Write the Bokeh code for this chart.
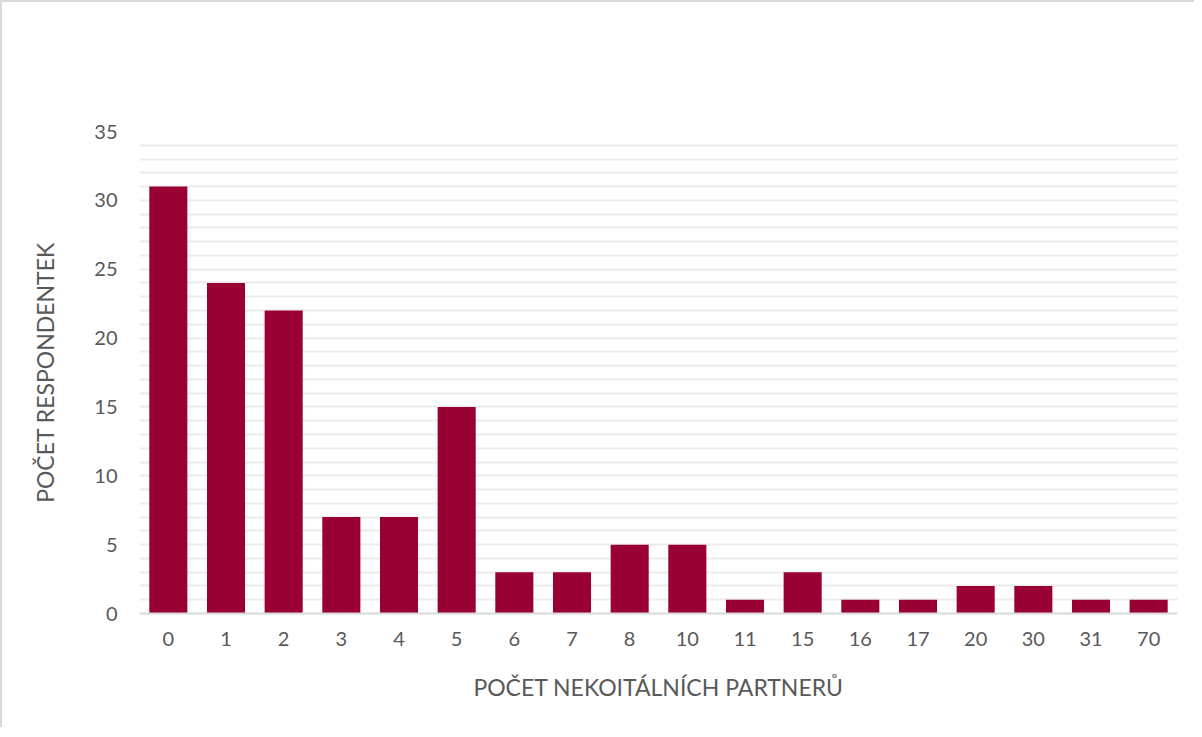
from bokeh.plotting import figure
from bokeh.models import Range1d, SingleIntervalTicker, FixedTicker
from bokeh.embed import file_html
from bokeh.resources import INLINE

categories = ["0", "1", "2", "3", "4", "5", "6", "7", "8", "10", "11", "15", "16", "17", "20", "30", "31", "70"]
counts = [31, 24, 22, 7, 7, 15, 3, 3, 5, 5, 1, 3, 1, 1, 2, 2, 1, 1]
y_ticks = [0, 5, 10, 15, 20, 25, 30, 35]
x_title = "POČET NEKOITÁLNÍCH PARTNERŮ"
y_title = "POČET RESPONDENTEK"

FONT = "Lato"
GRAY = "#595959"

p = figure(
    x_range=categories,
    y_range=Range1d(0, 35),
    frame_width=1038,
    frame_height=482,
    output_backend="svg",
    toolbar_location=None,
    min_border_left=137,
    min_border_right=17,
    min_border_top=129,
    min_border_bottom=114,
    styles={"border-top": "2px solid #d9d9d9", "border-left": "2px solid #d9d9d9"},
)

p.vbar(x=categories, top=counts, width=0.66, color="#990033", line_color=None)

p.outline_line_color = None
p.xgrid.grid_line_color = None
p.ygrid.ticker = SingleIntervalTicker(interval=1)
p.ygrid.grid_line_color = "#ececec"
p.ygrid.grid_line_width = 2

p.yaxis.ticker = FixedTicker(ticks=y_ticks)
p.yaxis.axis_line_color = None
p.yaxis.major_tick_line_color = None
p.yaxis.minor_tick_line_color = None
p.yaxis.major_label_standoff = 16
p.yaxis.axis_label = y_title
p.yaxis.axis_label_standoff = 32

p.xaxis.axis_line_color = "#d9d9d9"
p.xaxis.axis_line_width = 2
p.xaxis.major_tick_line_color = None
p.xaxis.minor_tick_line_color = None
p.xaxis.major_label_standoff = 12
p.xaxis.axis_label = x_title
p.xaxis.axis_label_standoff = 24

for ax in (p.xaxis, p.yaxis):
    ax.major_label_text_font = FONT
    ax.major_label_text_font_size = "20px"
    ax.major_label_text_color = GRAY
    ax.axis_label_text_font = FONT
    ax.axis_label_text_font_size = "23px"
    ax.axis_label_text_font_style = "normal"
    ax.axis_label_text_color = GRAY

open("out.html", "w").write(file_html(p, INLINE))
